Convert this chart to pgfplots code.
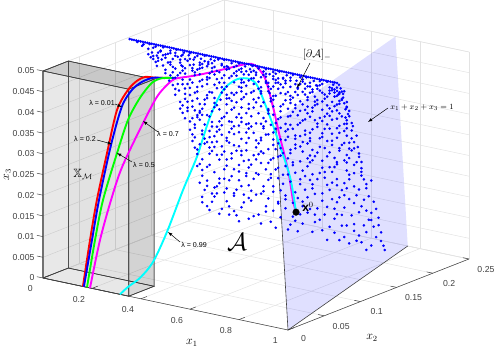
\documentclass[border=0pt]{standalone}
\usepackage{amssymb}
\usepackage{fontspec}
\setmainfont{Liberation Sans}
\usepackage{pgfplots}
\pgfplotsset{compat=1.18}
\definecolor{tickgray}{gray}{0.25}
\definecolor{gridgray}{gray}{0.89}
\definecolor{edgegray}{gray}{0.25}
\definecolor{lmag}{rgb}{1,0,1}
\definecolor{lcya}{rgb}{0,1,1}
\definecolor{lgre}{rgb}{0,1,0}
\definecolor{lblu}{rgb}{0,0,1}
\definecolor{lred}{rgb}{1,0,0}
\begin{document}
\begin{tikzpicture}[x=1pt,y=1pt]
\path[use as bounding box] (0,0) rectangle (495,347);
\begin{axis}[
    at={(43pt,69pt)},anchor=origin,
    x={(245pt,-52pt)},y={(724pt,284pt)},z={(0pt,4140pt)},
    xmin=0,xmax=1,ymin=0,ymax=0.25,zmin=0,zmax=0.05,
    xtick={0,0.2,...,1},ytick={0,0.05,...,0.25},
    ztick={0,0.005,...,0.05},
    scaled ticks=false,
    xticklabels={0,0.2,0.4,0.6,0.8,1},
    yticklabels={0,0.05,0.1,0.15,0.2,0.25},
    zticklabels={0,0.005,0.01,0.015,0.02,0.025,0.03,0.035,0.04,0.045,0.05},
    grid=major,
    grid style={gridgray,line width=0.5pt},
    clip=false,
    unbounded coords=jump,
    axis line style={gridgray,line width=0.5pt},
    major tick length=0pt,
    tick label style={font=\fontsize{8.7}{10}\selectfont,text=tickgray},
    x tick label style={xshift=-8pt,yshift=-3.5pt},
    y tick label style={xshift=10pt,yshift=-2pt},
    z tick label style={xshift=-5pt,yshift=1pt},
    every axis x label/.style={at={(axis cs:0.608,0,0)},anchor=center,yshift=-33pt,font=\fontsize{12}{14}\selectfont},
    every axis y label/.style={at={(axis cs:1,0.116,0)},anchor=center,yshift=-41pt,font=\fontsize{12}{14}\selectfont},
    every axis z label/.style={at={(axis cs:0,0,0.025)},anchor=center,xshift=-35.5pt,rotate=90,font=\fontsize{12}{14}\selectfont},
    xlabel={$x_1$},ylabel={$x_2$},zlabel={$x_3$},
]
% plane x1+x2+x3=1
\addplot3[draw=none,fill=blue,fill opacity=0.12] coordinates {(1,0,0)(0.75,0.25,0)(0.7,0.25,0.05)(0.95,0,0.05)(1,0,0)};
\addplot3[edgegray,line width=0.6pt] coordinates {(0.95,0,0.05)(1,0,0)(0.75,0.25,0)};
% dense lower boundary of the set
\addplot3[blue,only marks,mark=*,mark size=1.1pt,mark options={draw=none,fill=lblu}]
 table[row sep=\\,header=false,x index=0,y expr=0.115,z expr=0.05] {
.014\\.023\\.032\\.041\\.05\\.059\\.068\\.077\\.086\\.095\\.104\\.113\\.122\\.131\\.14\\.149\\.158\\.167\\.176\\.185\\
.194\\.203\\.212\\.221\\.23\\.239\\.248\\.257\\.266\\.275\\.284\\.293\\.302\\.311\\.32\\.329\\.338\\.347\\.356\\.365\\
.374\\.383\\.392\\.401\\.41\\.419\\.428\\.437\\.446\\.455\\.464\\.473\\.482\\.491\\.5\\.509\\.518\\.527\\.536\\.545\\
.554\\.563\\.572\\.581\\.59\\.599\\.608\\.617\\.626\\.635\\.644\\.653\\.662\\.671\\.68\\.689\\.698\\.707\\.716\\.725\\
.734\\.743\\.752\\.761\\.77\\.779\\.788\\.797\\.806\\.815\\.824\\.833\\.842\\.851\\.86\\};
% scattered points of the set, x1 and x3
\addplot3[blue,only marks,mark=*,mark size=1.1pt,mark options={draw=none,fill=lblu}]
 table[row sep=\\,header=false,x index=0,y expr=0.115,z index=1] {
.045 .0497\\.07 .0494\\.095 .0498\\.12 .0495\\.15 .0497\\.18 .0493\\.205 .0498\\.235 .0495\\.26 .0497\\.29 .0494\\.32 .0498\\.345 .0493\\.375 .0496\\.4 .0498\\.43 .0494\\.46 .0497\\.485 .0493\\.515 .0498\\.54 .0495\\.57 .0497\\.6 .0494\\.625 .0498\\.655 .0493\\.68 .0497\\.71 .0495\\.735 .0498\\.765 .0493\\.79 .0496\\.82 .0498\\.845 .0494\\.868 .0497\\
.065 .049\\.09 .0486\\.11 .0491\\.14 .0488\\.17 .0484\\.2 .049\\.225 .0486\\.255 .0491\\.275 .0483\\.305 .0489\\.335 .0485\\.36 .0491\\.39 .0487\\.415 .0483\\.45 .049\\.47 .0486\\.505 .0489\\.53 .0484\\.56 .049\\.585 .0487\\.61 .0491\\.64 .0483\\.67 .0489\\.695 .0485\\.72 .0491\\.75 .0487\\.775 .0484\\.8 .049\\.83 .0486\\.85 .0483\\.875 .0489\\.88 .0482\\.86 .0481\\.84 .048\\.885 .0477\\
.47 .0478\\.13 .0469\\.62 .0481\\.35 .0472\\.81 .0466\\.24 .048\\.55 .0475\\.105 .0479\\.73 .047\\.41 .0476\\.885 .0468\\.19 .0474\\.67 .0467\\.3 .0479\\.78 .0476\\.16 .0481\\.52 .0469\\.865 .0473\\.38 .0466\\.6 .0477\\.26 .0468\\.71 .0479\\.44 .0471\\.125 .0474\\.83 .0478\\.335 .048\\.58 .0465\\.22 .0476\\.76 .0472\\.49 .0482\\.87 .0479\\.145 .0467\\.65 .0473\\.275 .0471\\.4 .0481\\.8 .0469\\.53 .0478\\.18 .0465\\.7 .0466\\.36 .0476\\.09 .0473\\.85 .0466\\.61 .0469\\.31 .0468\\.45 .0466\\.74 .0477\\.21 .0482\\.57 .0479\\
.33 .0448\\.71 .0437\\.18 .0459\\.59 .0429\\.84 .0452\\.46 .0441\\.26 .0433\\.9 .0446\\.13 .0462\\.52 .0455\\.75 .0463\\.39 .0431\\.63 .0447\\.23 .0451\\.8 .0428\\.29 .0461\\.55 .0436\\.87 .0458\\.42 .0457\\.68 .0442\\.16 .0444\\.49 .0427\\.78 .0449\\.35 .0464\\.6 .0459\\.905 .0431\\.2 .043\\.73 .0456\\.31 .0439\\.44 .0449\\.86 .0434\\.57 .0464\\.24 .0445\\.65 .0432\\.82 .0441\\.11 .0464\\.37 .0426\\.5 .0461\\.7 .0451\\.27 .0456\\.91 .0426\\.15 .0453\\.62 .0456\\.41 .0435\\.77 .0435\\.54 .0446\\.21 .0437\\.88 .0462\\.33 .0431\\.47 .0452\\.84 .0429\\.67 .0428\\.19 .0428\\.585 .0441\\.3 .0451\\.74 .0428\\.895 .0441\\.125 .0449\\.4 .0443\\.64 .0462\\.225 .0463\\
.52 .0418\\.24 .0396\\.79 .0407\\.36 .0389\\.64 .0421\\.92 .0393\\.19 .0411\\.45 .0402\\.71 .0385\\.29 .0419\\.58 .0391\\.86 .0414\\.33 .0404\\.68 .0408\\.22 .0374\\.49 .0381\\.76 .0419\\.41 .0415\\.9 .0378\\.27 .0383\\.61 .0372\\.55 .0405\\.83 .0386\\.175 .042\\.38 .0376\\.73 .0396\\.47 .0367\\.31 .0369\\.925 .0404\\.66 .0363\\.23 .0418\\.8 .0371\\.5 .0393\\.43 .0422\\.6 .0411\\.87 .0398\\.2 .0389\\.35 .0413\\.75 .0366\\.28 .0404\\.56 .0378\\.93 .0366\\.41 .0371\\.69 .0418\\.82 .0421\\.25 .0364\\.63 .0388\\.47 .0412\\.385 .04\\.895 .0421\\.215 .0401\\.53 .0361\\.78 .0384\\.32 .0381\\.67 .0375\\.86 .0368\\.44 .0388\\.59 .0422\\.74 .0412\\.3 .0362\\.9 .0407\\
.43 .0352\\.74 .0339\\.28 .0327\\.6 .0348\\.91 .0325\\.35 .0342\\.53 .032\\.82 .0355\\.23 .0349\\.67 .0315\\.46 .0331\\.95 .0341\\.31 .0307\\.56 .0358\\.78 .0322\\.39 .0316\\.87 .0344\\.26 .0312\\.63 .0335\\.5 .0345\\.71 .0353\\.33 .0356\\.93 .0311\\.42 .0326\\.58 .0305\\.85 .0318\\.24 .0337\\.76 .0301\\.65 .0357\\.37 .0333\\.49 .0309\\.89 .0359\\.29 .0346\\.69 .033\\.81 .0337\\.55 .0329\\.945 .0356\\.27 .0302\\.41 .0304\\.6 .0318\\.75 .0346\\.34 .0319\\.96 .0322\\.47 .0357\\.86 .0304\\.64 .0303\\.3 .0358\\.52 .0337\\.72 .0317\\.9 .0331\\.38 .0347\\.25 .0356\\.79 .0358\\
.62 .0292\\.34 .0279\\.81 .0265\\.46 .0297\\.29 .0257\\.97 .0281\\.55 .0268\\.71 .0249\\.38 .0255\\.9 .0294\\.27 .0286\\.65 .0273\\.5 .0251\\.84 .0283\\.43 .0276\\.75 .0295\\.98 .0261\\.32 .0298\\.59 .0246\\.93 .0259\\.37 .0265\\.68 .0286\\.52 .0283\\.78 .0258\\.28 .0271\\.88 .0244\\.41 .0244\\.61 .026\\.96 .0298\\.72 .0271\\.48 .0264\\.86 .0268\\.31 .0247\\.56 .0293\\.99 .0243\\.39 .0288\\.76 .0243\\.66 .0254\\.45 .0285\\.91 .0274\\.35 .0293\\.82 .0249\\.53 .0241\\
.49 .0236\\.77 .0221\\.31 .0207\\.64 .0229\\1.02 .0216\\.4 .0234\\.89 .0203\\.56 .0213\\.29 .0228\\.72 .0196\\.97 .0232\\.45 .0191\\.83 .0238\\.36 .0222\\.6 .0205\\1.0 .0187\\.52 .0226\\.69 .0215\\.93 .0219\\.33 .0185\\.42 .021\\.8 .0208\\.58 .0186\\1.03 .0196\\.47 .0202\\.75 .0182\\.87 .0225\\.38 .0198\\.65 .0193\\.95 .0199\\.54 .0239\\.3 .0189\\.86 .0183\\.71 .0237\\.44 .0181\\.62 .024\\
.37 .0172\\.68 .0155\\.95 .0143\\.48 .0164\\.81 .0176\\.33 .0136\\.59 .0131\\1.04 .0162\\.42 .0147\\.76 .0128\\.88 .0158\\.31 .0156\\.54 .0142\\1.0 .0125\\.65 .0171\\.38 .0124\\.85 .0137\\.5 .0177\\.72 .0143\\.97 .017\\.45 .0129\\1.05 .0131\\.61 .0119\\.91 .0119\\.35 .0149\\.79 .0161\\.57 .0166\\1.02 .0148\\.82 .0116\\1.055 .0121\\.98 .0112\\.4 .0178\\.7 .0122\\.93 .0152\\.46 .0116\\
.28 .0489\\.73 .0482\\.16 .0473\\.51 .0467\\.87 .0475\\.39 .0484\\.62 .0471\\.23 .0461\\.79 .0486\\.34 .0458\\.56 .0482\\.13 .0482\\.69 .0476\\.44 .0486\\.89 .0484\\.19 .0455\\.59 .0452\\.3 .0473\\.76 .0466\\.47 .0459\\.1 .0467\\.83 .0471\\.37 .0468\\.64 .0485\\.25 .0477\\.52 .0487\\.88 .0464\\.15 .0478\\.42 .0479\\.72 .0461\\.32 .0485\\.57 .0468\\.2 .0483\\.81 .0456\\.48 .0473\\.67 .0482\\.27 .0462\\.86 .0489\\.12 .0458\\.39 .0453\\.61 .0476\\.75 .0478\\.22 .0469\\.54 .0463\\.85 .0476\\.33 .0474\\.46 .0482\\.7 .0469\\.17 .0463\\.58 .0456\\.78 .0483\\.28 .0453\\.43 .0463\\.89 .0455\\.66 .0453\\.36 .0458\\.5 .0475\\.82 .0462\\.24 .0458\\.63 .0468\\.41 .0484\\.74 .0451\\.14 .0486\\.55 .0451\\.3 .0465\\.87 .0451\\.2 .0452\\.69 .0457\\.45 .0477\\.79 .0473\\.35 .0484\\.6 .0484\\.84 .0485\\.11 .0471\\.51 .0483\\.26 .0483\\.72 .0486\\.4 .0461\\.9 .0459\\.65 .0479\\.18 .0487\\.48 .0454\\.77 .0456\\.31 .0477\\.57 .0486\\.86 .0469\\.23 .0489\\
.34 .0413\\.76 .0428\\.22 .0444\\.58 .0445\\.91 .0439\\.44 .0419\\.67 .0436\\.27 .0427\\.83 .0435\\.51 .0433\\.16 .0436\\.71 .0414\\.38 .0441\\.88 .0422\\.6 .0427\\.31 .0423\\.8 .0448\\.47 .044\\.24 .0409\\.63 .0403\\.36 .0433\\.9 .0415\\.54 .0424\\.19 .0442\\.74 .0444\\.42 .0408\\.85 .0443\\.28 .0446\\.66 .0413\\.5 .0404\\.78 .0439\\.33 .0442\\.56 .0416\\.92 .0411\\.21 .0416\\.69 .0426\\.4 .0427\\.83 .0417\\.61 .0438\\.29 .0408\\.47 .0431\\.75 .0405\\.36 .0401\\.87 .0428\\.18 .0433\\.53 .0412\\.65 .0447\\.43 .0403\\.81 .0413\\.26 .0413\\.58 .0402\\.72 .0431\\.34 .0447\\.49 .0447\\.89 .0405\\.23 .0429\\.77 .0444\\.39 .0418\\.63 .0415\\.86 .0448\\.45 .0425\\.7 .0402\\.3 .0434\\.55 .0441\\.8 .0401\\.2 .0403\\.67 .0445\\.41 .0406\\.9 .0448\\.52 .0438\\.73 .0419\\.37 .0448\\.84 .0409\\.6 .0436\\.25 .0421\\.48 .0418\\
.45 .0366\\.72 .0392\\.25 .0378\\.57 .0371\\.89 .0388\\.33 .0397\\.8 .0362\\.51 .0376\\.22 .0358\\.66 .0394\\.94 .0383\\.39 .0356\\.61 .0358\\.84 .0375\\.29 .0391\\.47 .0392\\.76 .0376\\.35 .0368\\.91 .0362\\.54 .0387\\.68 .0367\\.27 .0369\\.43 .0382\\.82 .0395\\.59 .0365\\.31 .0354\\.73 .0359\\.88 .0353\\.49 .0354\\.62 .0383\\.24 .0384\\.37 .0385\\.78 .0392\\.93 .0351\\.56 .0353\\.41 .0392\\.69 .0352\\.84 .0358\\.3 .0379\\.52 .0398\\.65 .0375\\.87 .0381\\.23 .0367\\.75 .0353\\.4 .0361\\.58 .0398\\.34 .0354\\.81 .0383\\.92 .0374\\.46 .0375\\.7 .0379\\.28 .0361\\.63 .0363\\.55 .0363\\.77 .0399\\.36 .0379\\.86 .0391\\.26 .0396\\.5 .0357\\.67 .0397\\.42 .0352\\.9 .0396\\.32 .0392\\.73 .0369\\.6 .0391\\
.38 .0327\\.69 .0344\\.27 .0341\\.54 .0314\\.83 .0329\\.44 .0343\\.95 .0333\\.32 .0332\\.62 .0324\\.77 .0312\\.5 .0322\\.89 .0317\\.36 .0309\\.71 .0328\\.28 .0319\\.57 .0339\\.84 .0348\\.41 .0311\\.66 .0345\\.92 .0345\\.47 .0316\\.3 .0341\\.74 .0303\\.53 .0303\\.86 .0309\\.35 .0331\\.61 .0309\\.96 .0307\\.44 .0324\\.79 .0337\\.26 .0332\\.67 .0307\\.51 .0351\\.9 .0313\\.39 .0339\\.72 .034\\.58 .0341\\.82 .0318\\.31 .0316\\.46 .0347\\.94 .0319\\.63 .0314\\.76 .0326\\.34 .0304\\.55 .0323\\.87 .0338\\.42 .0301\\.69 .0321\\.29 .0351\\.8 .0305\\.49 .0334\\.37 .0321\\.91 .0348\\.6 .0331\\.75 .0311\\.43 .0336\\.65 .0336\\
.58 .0272\\.33 .0291\\.85 .0296\\.47 .0277\\.74 .0284\\.29 .0268\\.96 .0289\\.63 .0296\\.41 .0259\\.79 .0274\\.54 .0288\\.91 .0285\\.36 .0283\\.69 .0262\\.51 .0259\\.84 .0257\\.3 .0282\\.59 .0281\\.98 .0271\\.44 .0297\\.76 .0267\\.34 .0264\\.93 .0291\\.66 .0293\\.49 .0291\\.81 .0279\\.4 .0277\\.57 .0255\\.89 .0262\\.28 .0296\\.71 .0292\\.46 .0252\\.62 .0265\\.86 .0253\\.37 .0297\\.75 .0252\\.53 .0274\\.95 .0254\\.43 .0264\\.68 .0279\\.32 .0286\\.8 .0288\\.6 .0286\\.9 .0251\\.47 .0287\\.73 .0259\\.35 .0272\\.64 .0251\\1.0 .0282\\.55 .0296\\.39 .0268\\.83 .0293\\.5 .0269\\
.43 .0221\\.74 .0209\\.33 .0231\\.6 .0218\\.91 .0226\\.51 .0196\\.85 .0195\\.38 .0209\\.67 .0238\\.98 .0207\\.46 .0215\\.8 .0226\\.31 .0221\\.56 .0201\\.94 .0239\\.7 .0202\\.41 .0189\\.86 .0212\\.34 .0237\\.63 .0212\\1.01 .0232\\.49 .0229\\.76 .0233\\.53 .0189\\.89 .0233\\.37 .0189\\.68 .0188\\.44 .0239\\.82 .0196\\.58 .0231\\.96 .0215\\.3 .0234\\.73 .0226\\.48 .0183\\.92 .0188\\.4 .0211\\.65 .0202\\1.0 .0204\\.55 .0194\\.84 .0217\\.33 .0198\\.62 .0183\\.78 .0187\\.46 .0236\\.99 .0186\\.88 .0184\\.36 .0185\\.72 .0185\\.59 .0237\\.5 .0208\\
.35 .0169\\.63 .0147\\.9 .0161\\.44 .0175\\.77 .0153\\1.01 .0172\\.52 .0136\\.85 .0171\\.32 .0174\\.67 .0134\\.96 .0128\\.41 .0158\\.74 .0172\\.57 .0153\\.89 .0132\\.47 .0151\\1.03 .0178\\.62 .0179\\.34 .0128\\.8 .0137\\.51 .0172\\.93 .0168\\.39 .0137\\.71 .0164\\.55 .0122\\.87 .0122\\.44 .0138\\.98 .0155\\.66 .0121\\.83 .0149\\.31 .0143\\.6 .0159\\.77 .0171\\1.04 .0141\\.5 .0127\\.94 .0129\\.42 .0127\\.69 .0146\\.36 .0163\\
};
% box X_M
\addplot3[draw=edgegray,line width=0.6pt,fill=black,fill opacity=0.03] coordinates {(0,0,0)(0,0.035,0)(0,0.035,0.05)(0,0,0.05)(0,0,0)};
\addplot3[draw=edgegray,line width=0.6pt,fill=black,fill opacity=0.03] coordinates {(0,0,0)(0.35,0,0)(0.35,0.035,0)(0,0.035,0)(0,0,0)};
\addplot3[draw=edgegray,line width=0.6pt,fill=black,fill opacity=0.06] coordinates {(0,0.035,0)(0.35,0.035,0)(0.35,0.035,0.05)(0,0.035,0.05)(0,0.035,0)};
\addplot3[draw=edgegray,line width=0.6pt,fill=black,fill opacity=0.06] coordinates {(0,0,0)(0.35,0,0)(0.35,0,0.05)(0,0,0.05)(0,0,0)};
\addplot3[draw=edgegray,line width=0.6pt,fill=black,fill opacity=0.12] coordinates {(0.35,0,0)(0.35,0.035,0)(0.35,0.035,0.05)(0.35,0,0.05)(0.35,0,0)};
\addplot3[draw=edgegray,line width=0.6pt,fill=black,fill opacity=0.17] coordinates {(0,0,0.05)(0.35,0,0.05)(0.35,0.035,0.05)(0,0.035,0.05)(0,0,0.05)};
% front axis lines and ticks
\addplot3[tickgray,line width=0.5pt] coordinates {(0,0,0.05)(0,0,0)(1,0,0)(1,0.25,0)};
\addplot3[tickgray,line width=0.5pt] coordinates {
(0,0,0)(0,0.008,0)(nan,nan,nan)(0.2,0,0)(0.2,0.008,0)(nan,nan,nan)(0.4,0,0)(0.4,0.008,0)(nan,nan,nan)
(0.6,0,0)(0.6,0.008,0)(nan,nan,nan)(0.8,0,0)(0.8,0.008,0)(nan,nan,nan)(1,0,0)(1,0.008,0)(nan,nan,nan)
(1,0.05,0)(0.975,0.05,0)(nan,nan,nan)(1,0.1,0)(0.975,0.1,0)(nan,nan,nan)(1,0.15,0)(0.975,0.15,0)(nan,nan,nan)
(1,0.2,0)(0.975,0.2,0)(nan,nan,nan)(1,0.25,0)(0.975,0.25,0)(nan,nan,nan)
(0,0,0)(-0.025,0,0)(nan,nan,nan)(0,0,0.005)(-0.025,0,0.005)(nan,nan,nan)(0,0,0.01)(-0.025,0,0.01)(nan,nan,nan)
(0,0,0.015)(-0.025,0,0.015)(nan,nan,nan)(0,0,0.02)(-0.025,0,0.02)(nan,nan,nan)(0,0,0.025)(-0.025,0,0.025)(nan,nan,nan)
(0,0,0.03)(-0.025,0,0.03)(nan,nan,nan)(0,0,0.035)(-0.025,0,0.035)(nan,nan,nan)(0,0,0.04)(-0.025,0,0.04)(nan,nan,nan)
(0,0,0.045)(-0.025,0,0.045)(nan,nan,nan)(0,0,0.05)(-0.025,0,0.05)};
% trajectories for lambda = 0.01, 0.2, 0.5, 0.7, 0.99
\addplot3[lred,line width=1.9pt,smooth] coordinates {(0.163,0,0)(0.192,0,0.0116)(0.22,0,0.0216)(0.2465,0.005,0.0329)(0.2725,0.01,0.0433)(0.3026,0.015,0.0482)(0.3098,0.025,0.0498)(0.313,0.035,0.0501)(0.339,0.04,0.0499)(0.385,0.045,0.0501)};
\addplot3[lblu,line width=1.9pt,smooth] coordinates {(0.167,0,0)(0.2,0,0.0117)(0.2286,0,0.0217)(0.2629,0.005,0.0351)(0.293,0.01,0.0445)(0.3188,0.015,0.0484)(0.3302,0.025,0.0498)(0.3457,0.035,0.0503)(0.3796,0.04,0.0503)};
\addplot3[lgre,line width=1.9pt,smooth] coordinates {(0.1796,0,0)(0.2122,0,0.0118)(0.2449,0,0.0219)(0.2873,0.005,0.0334)(0.3176,0.01,0.0415)(0.3514,0.015,0.0469)(0.371,0.025,0.0501)(0.3527,0.045,0.0496)(0.391,0.05,0.0498)};
\addplot3[lmag,line width=1.9pt,smooth] coordinates {(0.1918,0,0)(0.2327,0,0.0121)(0.2776,0,0.0223)(0.3078,0.005,0.0303)(0.3788,0.01,0.0415)(0.4061,0.02,0.0475)(0.4176,0.03,0.0498)(0.391,0.05,0.0496)(0.4053,0.07,0.0491)(0.4278,0.09,0.049)(0.4653,0.105,0.0496)(0.4927,0.115,0.05)(0.5253,0.115,0.0501)(0.5661,0.115,0.0475)(0.6286,0.105,0.042)(0.7012,0.09,0.0367)(0.8229,0.06,0.0323)(0.902,0.04,0.0274)(0.9441,0.03,0.0257)};
\addplot3[lcya,line width=1.9pt,smooth] coordinates {(0.3143,0,0)(0.3469,0,0.0022)(0.3959,0,0.005)(0.449,0,0.0095)(0.5061,0,0.0175)(0.5567,0.005,0.0279)(0.5992,0.01,0.0362)(0.6224,0.02,0.0453)(0.5869,0.05,0.0493)(0.5555,0.08,0.0495)(0.6086,0.08,0.0502)(0.6412,0.08,0.0487)(0.7049,0.075,0.0426)(0.767,0.065,0.0385)(0.8604,0.05,0.0318)(0.9441,0.03,0.0257)};
% initial point
\addplot3[black,only marks,mark=*,mark size=3.3pt] coordinates {(0.9441,0.03,0.0257)};
\end{axis}
% annotations, in the picture's pixels
\tikzset{ann/.style={font=\fontsize{7.1}{8}\selectfont,inner sep=0pt},arr/.style={-latex,black,line width=0.5pt}}
\node[ann] at (102,244) {λ = 0.01};
\draw[arr] (115,243) -- (122,240);
\node[ann] at (85,208) {λ = 0.2};
\draw[arr] (97,207) -- (112,203);
\node[ann] at (144,182) {λ = 0.5};
\draw[arr] (132,185) -- (117,194);
\node[ann] at (168,213) {λ = 0.7};
\draw[arr] (158,215) -- (143,226);
\node[ann] at (194,102) {λ = 0.99};
\draw[arr] (180,105) -- (168,115);
\node[inner sep=0pt,font=\fontsize{11}{13}\selectfont] at (317,292) {$[\partial\mathcal{A}]_{-}$};
\draw[arr] (310,284) -- (297,259);
\node[inner sep=0pt,font=\fontsize{8.5}{10}\selectfont] at (422,240) {$x_1+x_2+x_3=1$};
\draw[arr] (388,239) -- (368,225);
\node[inner sep=0pt,font=\fontsize{12}{14}\selectfont] at (83,173) {$\mathbb{X}_{\mathcal{M}}$};
\node[inner sep=0pt,font=\fontsize{25}{28}\selectfont] at (237,105) {$\mathcal{A}$};
\node[inner sep=0pt,font=\fontsize{12}{14}\selectfont] at (308,140) {$\mathbf{x}^0$};
\end{tikzpicture}
\end{document}
